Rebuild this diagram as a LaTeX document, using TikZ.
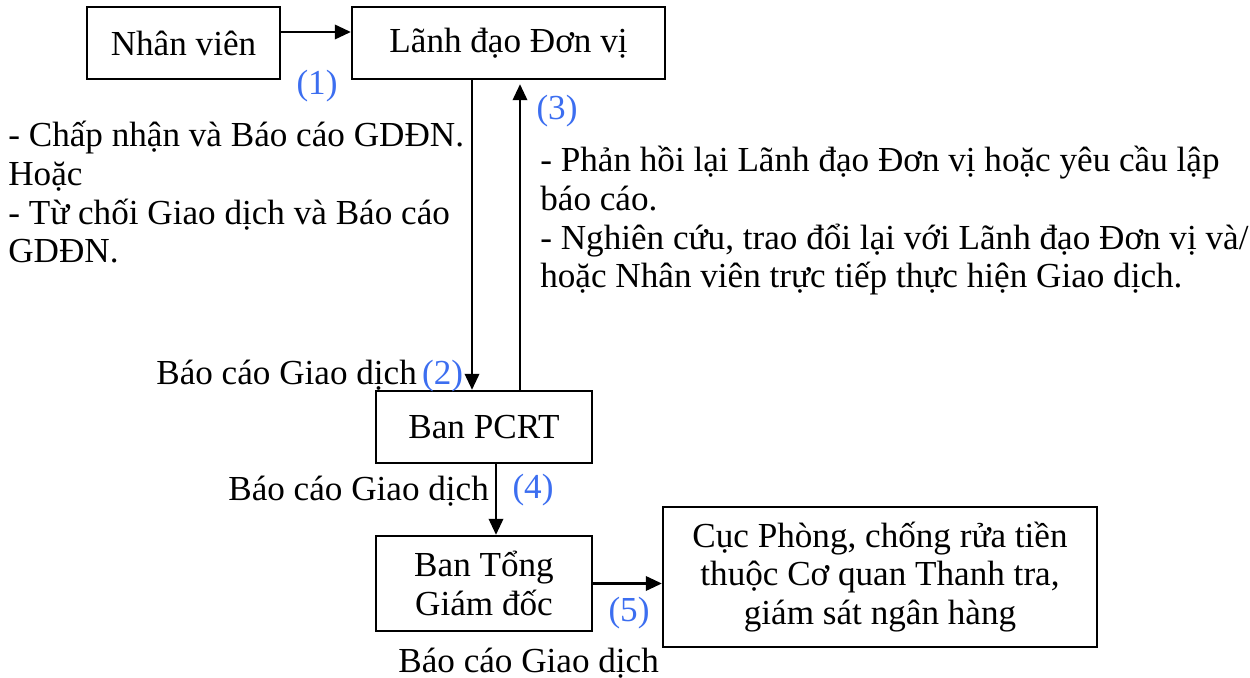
\documentclass[tikz,border=0pt]{standalone}
\usepackage{fontspec}
\setmainfont{Liberation Serif}
\usetikzlibrary{arrows.meta}
\definecolor{numblue}{RGB}{60,110,240}

\begin{document}
\begin{tikzpicture}[x=0.02cm,y=-0.02cm,
  txt/.style={font=\fontsize{20}{22}\selectfont},
  box/.style={txt,draw,line width=1.4pt,align=center,inner sep=2pt},
  note/.style={txt,align=left,inner sep=0pt},
  num/.style={txt,text=numblue,inner sep=0pt},
  arr/.style={line width=1.2pt,-{Triangle[length=0.32cm,width=0.29cm]}}]
  \useasboundingbox (0,0) rectangle (1250,678);
  \node[box,minimum width=3.86cm,minimum height=1.44cm] (nv) at (183.5,43) {Nhân viên};
  \node[box,minimum width=6.26cm,minimum height=1.44cm] (ldv) at (508.5,43) {Lãnh đạo Đơn vị};
  \node[box,minimum width=4.32cm,minimum height=1.44cm] (pcrt) at (484,427) {Ban PCRT};
  \node[box,minimum width=4.32cm,minimum height=1.9cm] (tgd) at (484,583.5) {Ban Tổng\\Giám đốc};
  \node[box,minimum width=8.68cm,minimum height=2.8cm] (cuc) at (880,577)
    {Cục Phòng, chống rửa tiền\\thuộc Cơ quan Thanh tra,\\giám sát ngân hàng};
  \node[num] (n1) at (317,86) {(1)};
  \node[num] (n3) at (557,111) {(3)};
  \node[num] (n4) at (533,490) {(4)};
  \node[num] (n5) at (629,613) {(5)};
  \node[note,anchor=north west] (chapnhan) at (8,121)
    {- Chấp nhận và Báo cáo GDĐN.\\Hoặc\\- Từ chối Giao dịch và Báo cáo\\GDĐN.};
  \node[note,anchor=north west] (phanhoi) at (540,146)
    {- Phản hồi lại Lãnh đạo Đơn vị hoặc yêu cầu lập\\báo cáo.\\- Nghiên cứu, trao đổi lại với Lãnh đạo Đơn vị và/\\hoặc Nhân viên trực tiếp thực hiện Giao dịch.};
  \node[note,anchor=base west] (bc2) at (156,385) {Báo cáo Giao dịch\hspace{3pt}\textcolor{numblue}{(2)}};
  \node[note,anchor=base west] (bc4) at (228,500) {Báo cáo Giao dịch};
  \node[note,anchor=base west] (bc5) at (398,672) {Báo cáo Giao dịch};
  \draw[arr] ([yshift=0.22cm]nv.east) -- ([yshift=0.22cm]nv.east -| ldv.west);
  \draw[arr] ([xshift=-0.73cm]ldv.south) -- ([xshift=-0.73cm]ldv.south |- pcrt.north);
  \draw[arr,shorten >=0.08cm] ([xshift=0.72cm]pcrt.north) -- ([xshift=0.72cm]pcrt.north |- ldv.south);
  \draw[arr] ([xshift=0.24cm]pcrt.south) -- ([xshift=0.24cm]pcrt.south |- tgd.north);
  \draw[arr] (tgd.east) -- (tgd.east -| cuc.west);
\end{tikzpicture}
\end{document}
